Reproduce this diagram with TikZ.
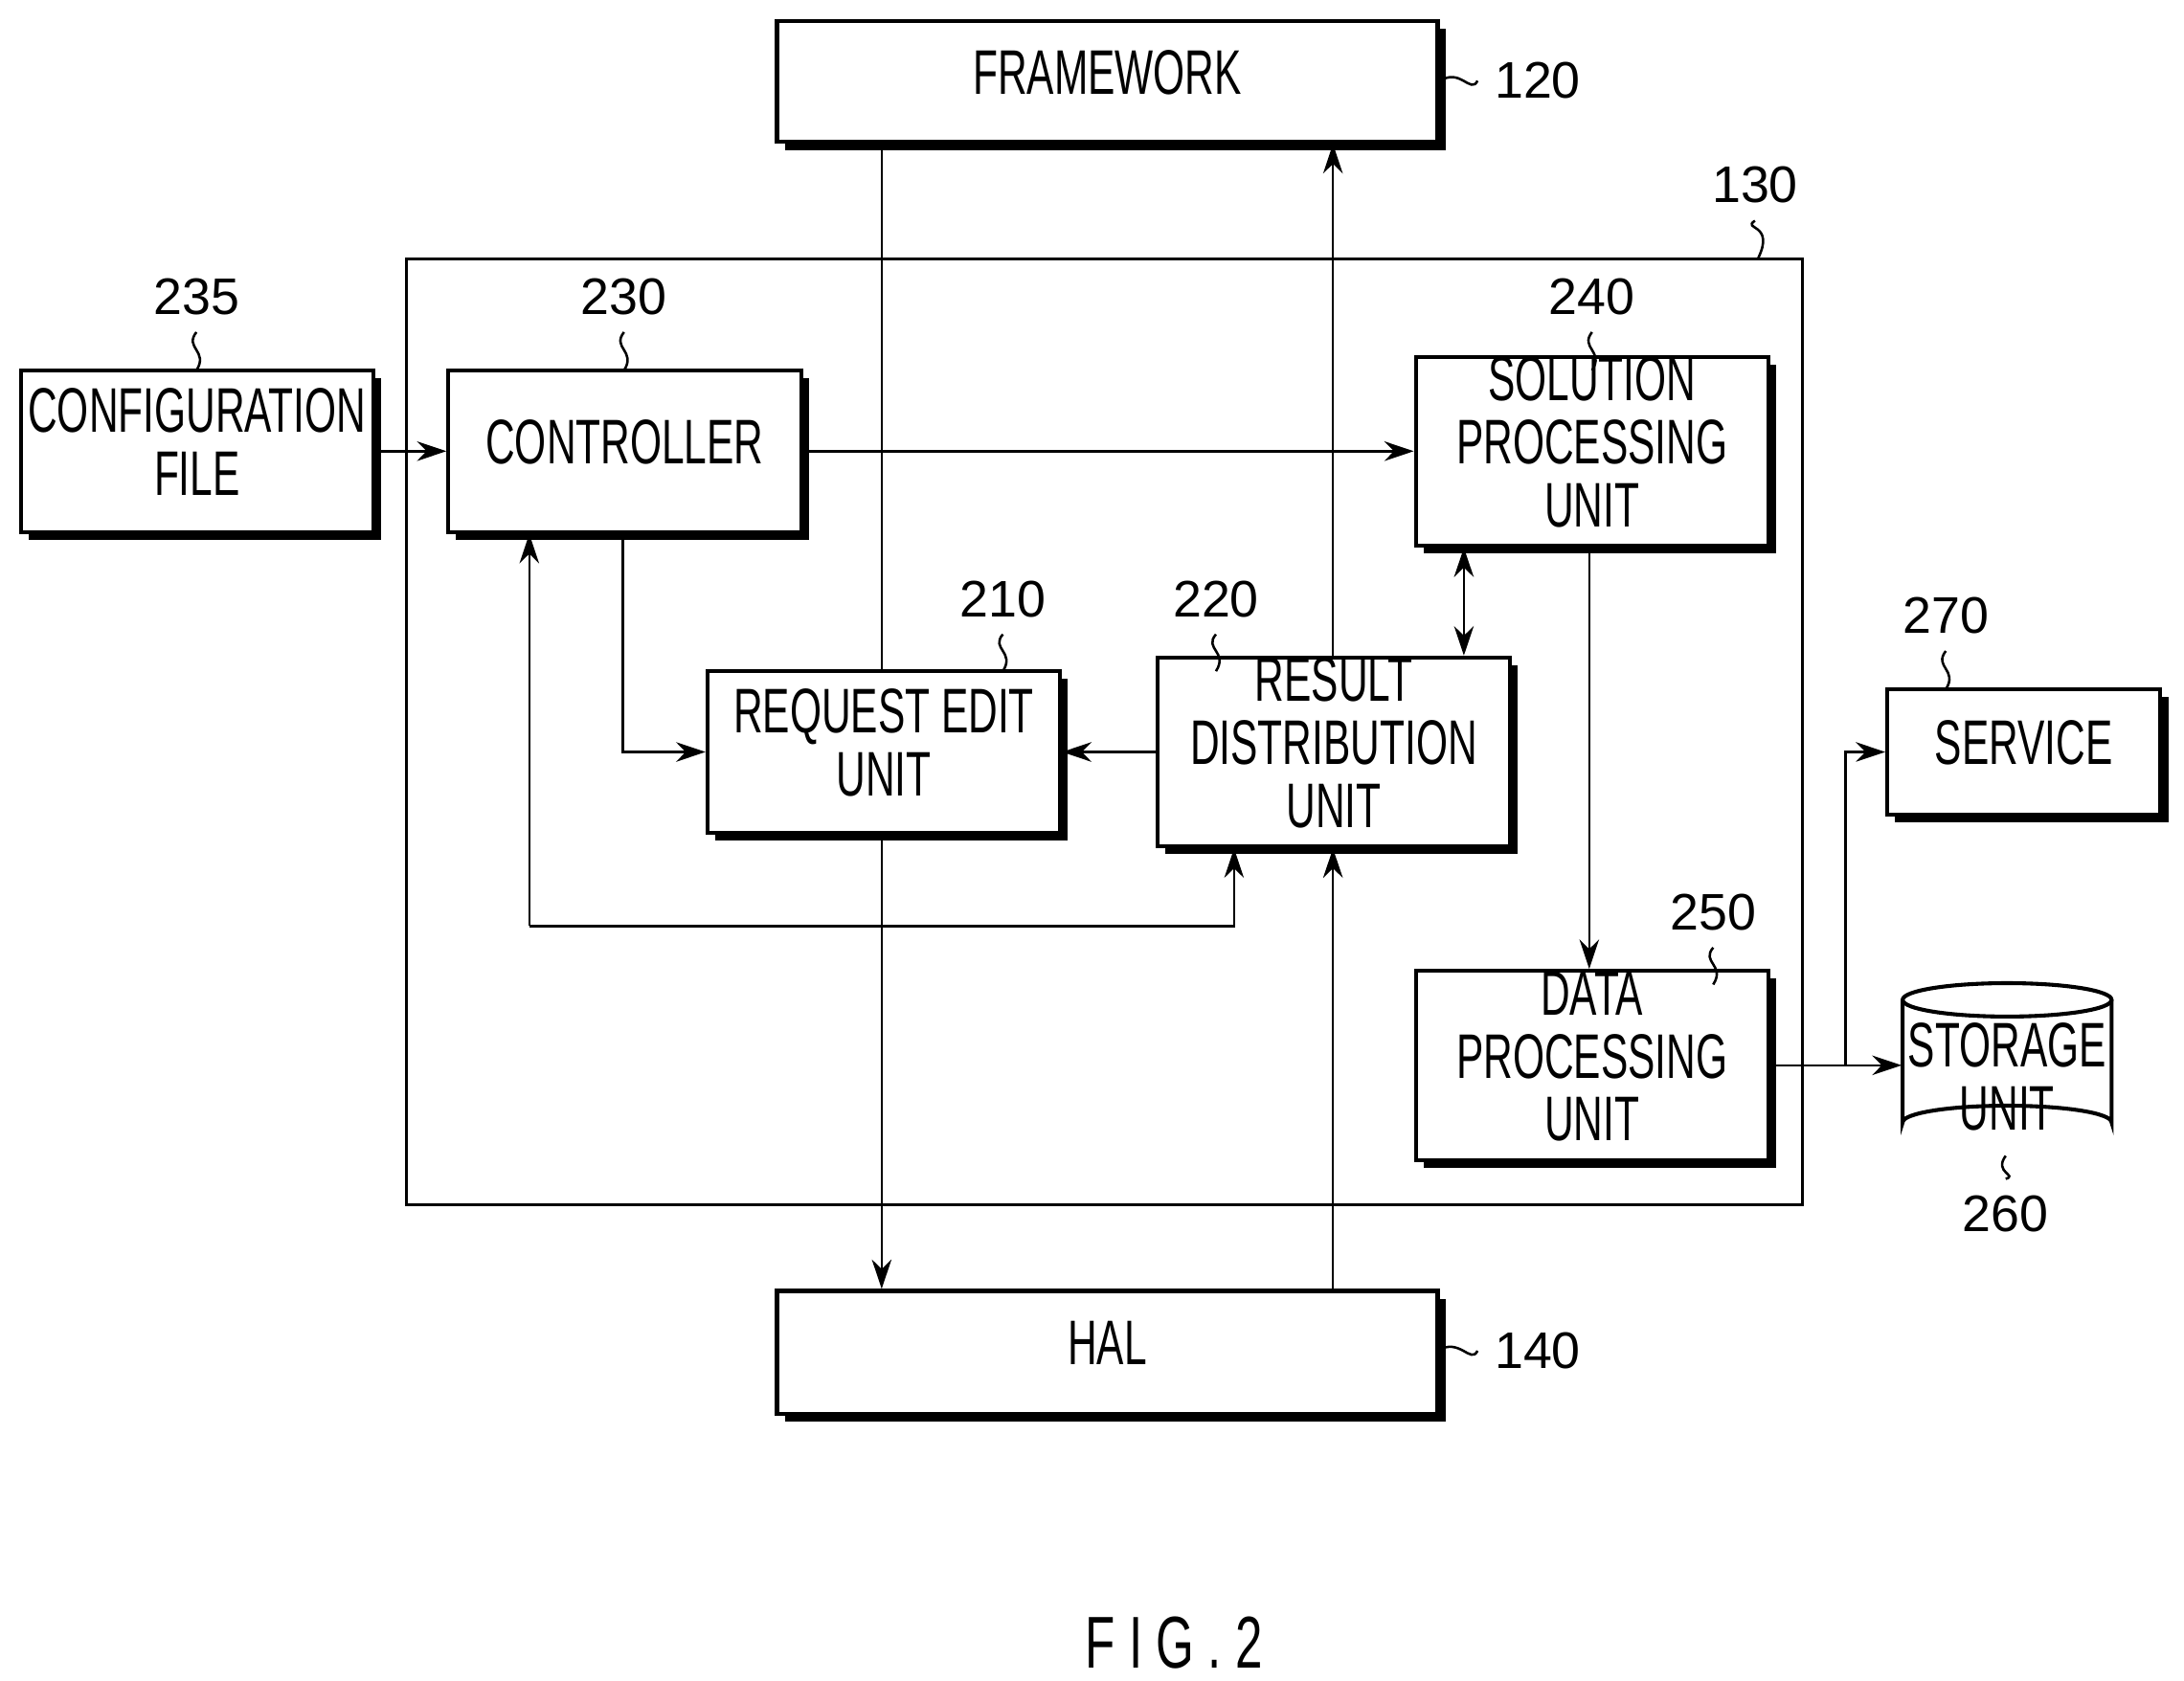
\documentclass[tikz,border=0pt]{standalone}
\usepackage{fontspec}
\setmainfont{Liberation Sans}
\usetikzlibrary{shadows,arrows.meta}
\newcommand\T[1]{\scalebox{1}[1.55]{\begin{tabular}{@{}c@{}}#1\end{tabular}}}
\begin{document}
\begin{tikzpicture}[x=0.01cm,y=-0.01cm,
  box/.style={draw,line width=0.8pt,fill=white,inner sep=0pt,font=\fontsize{8.3}{8.3}\selectfont,
    drop shadow={shadow xshift=1.6pt,shadow yshift=-1.6pt,fill=black,opacity=1}},
  lbl/.style={font=\fontsize{10.5}{11}\selectfont},
  arr/.style={-{Stealth[length=6pt,width=4pt]},line width=0.5pt},
  ln/.style={line width=0.5pt}]
\useasboundingbox (0,0) rectangle (1568,1207);
\draw[line width=0.6pt] (292,186) rectangle (1294,865);
\node[box,minimum width=4.74cm,minimum height=0.87cm] (fw) at (795,58.5) {\T{FRAMEWORK}};
\node[box,minimum width=2.53cm,minimum height=1.16cm] (cf) at (141.5,324) {\T{CONFIGURATION\\FILE}};
\node[box,minimum width=2.53cm,minimum height=1.16cm] (ct) at (448.5,324) {\T{CONTROLLER}};
\node[box,minimum width=2.53cm,minimum height=1.16cm] (sp) at (1143,324) {\T{SOLUTION\\PROCESSING\\UNIT}};
\node[box,minimum width=2.53cm,minimum height=1.16cm] (re) at (634.5,540) {\T{REQUEST EDIT\\UNIT}};
\node[box,minimum width=2.53cm,minimum height=1.16cm] (rd) at (957.5,540) {\T{RESULT\\DISTRIBUTION\\UNIT}};
\node[box,minimum width=2.53cm,minimum height=1.16cm] (dp) at (1143,765) {\T{DATA\\PROCESSING\\UNIT}};
\node[box,minimum width=1.96cm,minimum height=0.9cm] (sv) at (1453,540) {\T{SERVICE}};
\node[box,minimum width=4.74cm,minimum height=0.88cm] (hal) at (795,971) {\T{HAL}};
% storage cylinder
\draw[line width=0.8pt,fill=white] (1366,718) -- (1366,806) arc[start angle=180,end angle=360,x radius=75,y radius=12] -- (1516,718);
\draw[line width=0.8pt,fill=white] (1441,718) ellipse[x radius=75,y radius=12];
\node[minimum width=1.5cm,minimum height=1.0cm,inner sep=0pt,font=\fontsize{8.3}{8.3}\selectfont] (st) at (1441,780) {\T{STORAGE\\UNIT}};
% connectors
\draw[arr] (cf.east) -- (ct.west);
\draw[arr] (ct.east) -- (sp.west);
\draw[ln] (633,0 |- fw.south) -- (633,0 |- re.north);
\draw[arr] (633,0 |- re.south) -- (633,0 |- hal.north);
\draw[arr] (957,0 |- rd.north) -- (957,0 |- fw.south);
\draw[arr] (957,0 |- hal.north) -- (957,0 |- rd.south);
\draw[arr] (447,0 |- ct.south) |- (re.west);
\draw[arr] (rd.west) -- (re.east);
\draw[arr,{Stealth[length=6pt,width=4pt]}-{Stealth[length=6pt,width=4pt]}] (1051,0 |- sp.south) -- (1051,0 |- rd.north);
\coordinate (l1) at (380,665);
\coordinate (l2) at (886,665);
\draw[arr] (l1) -- (380,0 |- ct.south);
\draw[arr] (l1) -- (l2) -- (886,0 |- rd.south);
\draw[arr] (1141,0 |- sp.south) -- (1141,0 |- dp.north);
\coordinate (br) at (1325,765);
\draw[arr] (dp.east) -- (st.west |- br);
\draw[arr] (br) |- (sv.west);
% labels
\node[lbl] (n120) at (1104,58) {120};
\draw[ln] (fw.east) .. controls (1048,48) and (1056,68) .. (n120.west);
\node[lbl] (n140) at (1104,970) {140};
\draw[ln] (1032,970) .. controls (1048,960) and (1056,980) .. (n140.west);
\node[lbl] (n130) at (1260,133) {130};
\draw[ln] (n130.south) .. controls (1250,165) and (1275,160) .. (1262,186);
\foreach \n/\x/\yt/\yb in {235/141/213/266, 230/448/213/266, 240/1143/213/266, 210/720/430/482, 220/873/430/482, 270/1397/442/495, 250/1230/655/707}{
  \node[lbl] (n\n) at (\x,\yt) {\n};
  \draw[ln] (n\n.south) .. controls (\x-9,\yb-16) and (\x+9,\yb-14) .. (\x,\yb);
}
\node[lbl] (n260) at (1440,872) {260};
\draw[ln] (1440,830) .. controls (1431,842) and (1449,844) .. (n260.north);
\node[font=\fontsize{10}{11}\selectfont] (fig) at (843,1180) {\scalebox{1}[1.5]{F I G . 2}};
\end{tikzpicture}
\end{document}
